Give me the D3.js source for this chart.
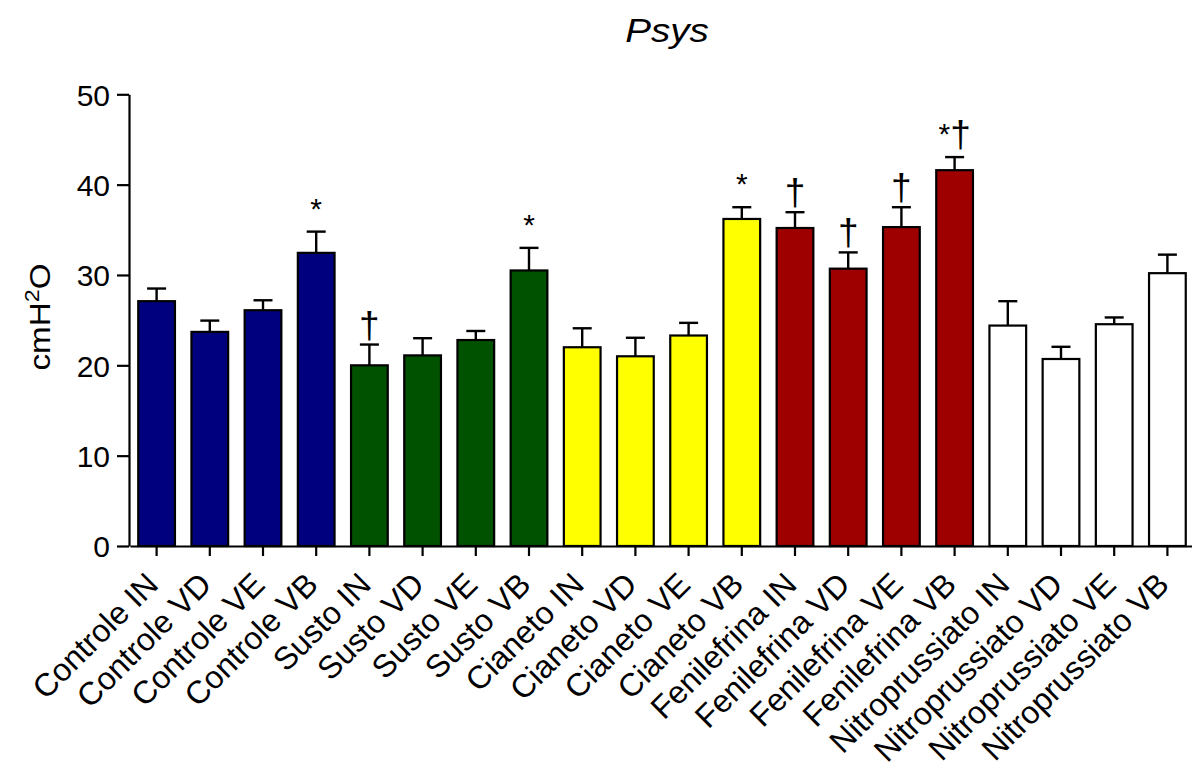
<!DOCTYPE html>
<html>
<head>
<meta charset="utf-8">
<script src="https://cdn.jsdelivr.net/npm/d3@7"></script>
<style>
  body { margin: 0; background: #fff; }
  text { font-family: "Liberation Sans", Arial, sans-serif; }
</style>
</head>
<body>
<div id="chart"></div>
<script>
// Group names and conditions
let categories = [
    "Controle IN", "Controle VD", "Controle VE", "Controle VB",
    "Susto IN", "Susto VD", "Susto VE", "Susto VB",
    "Cianeto IN", "Cianeto VD", "Cianeto VE", "Cianeto VB",
    "Fenilefrina IN", "Fenilefrina VD", "Fenilefrina VE", "Fenilefrina VB",
    "Nitroprussiato IN", "Nitroprussiato VD", "Nitroprussiato VE", "Nitroprussiato VB"
];
let means = [27.1, 23.7, 26.1, 32.45, 20.0, 21.1, 22.8, 30.5, 22.0, 21.0, 23.3, 36.2,
             35.2, 30.7, 35.3, 41.6, 24.4, 20.7, 24.55, 30.2];
let sems = [1.4, 1.25, 1.1, 2.35, 2.3, 1.9, 1.0, 2.5, 2.1, 2.05, 1.4, 1.3,
            1.75, 1.8, 2.2, 1.45, 2.7, 1.35, 0.75, 2.05];
let marks = ["", "", "", "*", "†", "", "", "*", "", "", "", "*",
             "†", "†", "†", "*†", "", "", "", ""];
let groupColors = ["#00007f", "#005200", "#ffff00", "#9e0000", "#ffffff"];
let yTicks = [0, 10, 20, 30, 40, 50];

let width = 1192;
let height = 772;

let svg = d3.select("#chart")
    .append("svg")
    .attr("width", width)
    .attr("height", height);

// Scales
const x = d3.scaleBand()
    .domain(categories)
    .range([130, 1194])
    .paddingInner(0.31)
    .paddingOuter(0.155);

const y = d3.scaleLinear()
    .domain([0, 50])
    .range([546, 94.3]);

// Title (a touch wider than plain Arial)
svg.append("text")
    .attr("transform", "translate(667, 42) scale(1.17, 1)")
    .style("text-anchor", "middle")
    .style("font-size", "33px")
    .style("font-style", "italic")
    .text("Psys");

// Y axis label
let yLabel = svg.append("text")
    .attr("transform", "translate(50, 317) rotate(-90)")
    .attr("textLength", 107)
    .attr("lengthAdjust", "spacingAndGlyphs")
    .style("text-anchor", "middle")
    .style("font-size", "30px");
yLabel.append("tspan").text("cmH");
yLabel.append("tspan").attr("baseline-shift", "super").style("font-size", "21px").text("2");
yLabel.append("tspan").text("O");

// Bars
svg.selectAll(".bar")
    .data(categories)
    .enter()
    .append("rect")
    .attr("class", "bar")
    .attr("x", d => x(d))
    .attr("y", (d, i) => y(means[i]))
    .attr("width", x.bandwidth())
    .attr("height", (d, i) => y(0) - y(means[i]))
    .style("fill", (d, i) => groupColors[Math.floor(i / 4)])
    .style("stroke", "#000")
    .style("stroke-width", 2.2);

// Error bars (upper only)
let err = svg.selectAll(".err")
    .data(categories)
    .enter()
    .append("g")
    .attr("class", "err")
    .attr("transform", d => `translate(${x(d) + x.bandwidth() / 2}, 0)`);

err.append("line")
    .attr("x1", 0).attr("x2", 0)
    .attr("y1", (d, i) => y(means[i]))
    .attr("y2", (d, i) => y(means[i] + sems[i]))
    .style("stroke", "#000")
    .style("stroke-width", 2.4);

err.append("line")
    .attr("x1", -9.5).attr("x2", 9.5)
    .attr("y1", (d, i) => y(means[i] + sems[i]))
    .attr("y2", (d, i) => y(means[i] + sems[i]))
    .style("stroke", "#000")
    .style("stroke-width", 2.4);

// Significance marks: asterisk a bit smaller than the dagger
err.append("text")
    .attr("y", (d, i) => y(means[i] + sems[i]) - 10)
    .style("text-anchor", "middle")
    .each(function(d, i) {
        d3.select(this).selectAll("tspan")
            .data(marks[i].split(""))
            .enter()
            .append("tspan")
            .style("font-size", c => c === "*" ? "30px" : "37px")
            .attr("dy", c => c === "*" ? -3 : 3)
            .text(c => c);
    });

// Y axis
svg.append("g")
    .attr("class", "axis")
    .attr("transform", "translate(129, 0)")
    .call(d3.axisLeft(y).tickValues(yTicks).tickSize(12).tickSizeOuter(0).tickPadding(7))
    .call(g => g.selectAll("text").style("font-size", "30px").attr("dy", "0.36em"));

// X axis
let xAxis = svg.append("g")
    .attr("class", "axis")
    .attr("transform", "translate(0, 546)")
    .call(d3.axisBottom(x).tickSize(10).tickSizeOuter(0));

xAxis.selectAll("text")
    .attr("transform", "rotate(-45)")
    .attr("x", -26)
    .attr("y", 31)
    .attr("dy", 0)
    .style("text-anchor", "end")
    .style("font-size", "32px");

svg.selectAll(".axis path, .axis line")
    .style("stroke", "#000")
    .style("stroke-width", 2.2);
svg.selectAll(".axis text")
    .style("fill", "#000")
    .style("font-family", "'Liberation Sans', Arial, sans-serif");
</script>
</body>
</html>
